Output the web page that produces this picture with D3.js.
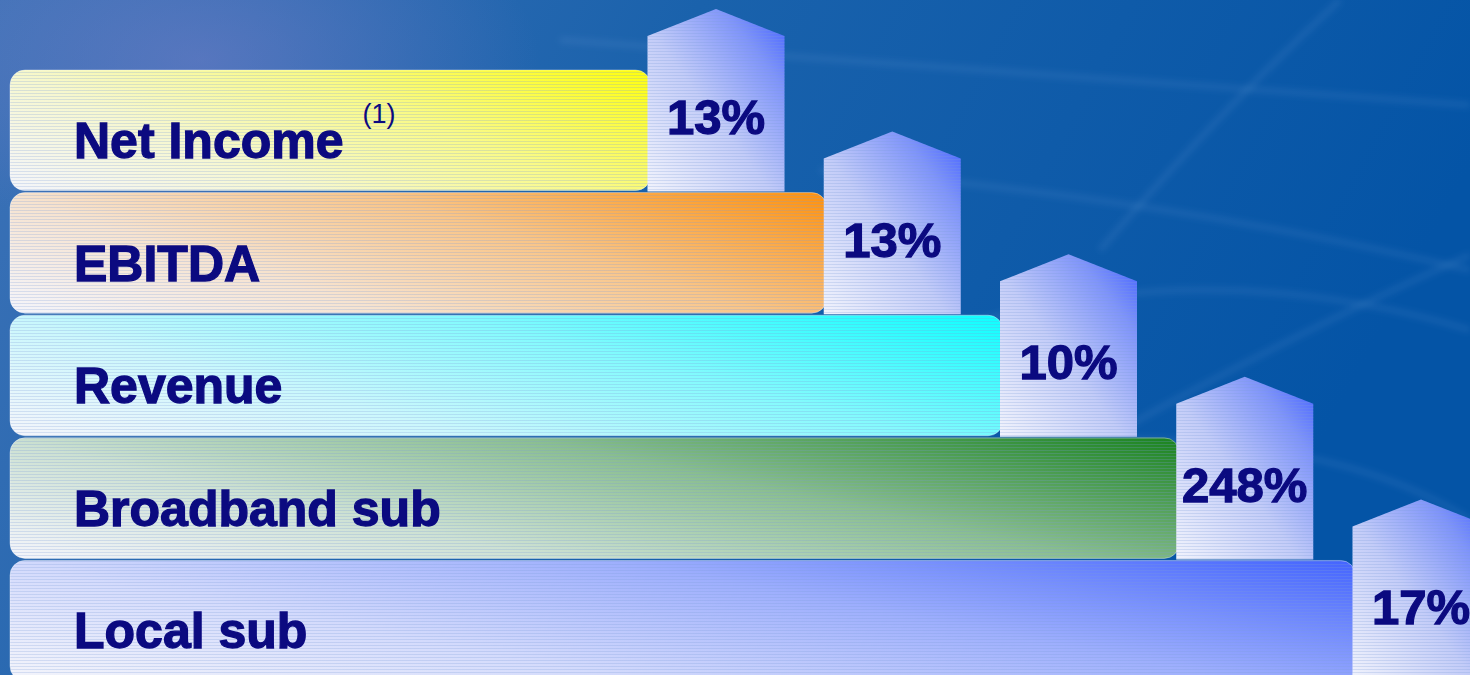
<!DOCTYPE html>
<html>
<head>
<meta charset="utf-8">
<script src="https://cdn.jsdelivr.net/npm/d3@7/dist/d3.min.js"></script>
<style>
  html, body { margin: 0; padding: 0; background: #0656a8; overflow: hidden; }
  svg { display: block; }
</style>
</head>
<body>
<svg id="chart" width="1470" height="675"></svg>
<script>
// Growth by metric, stepped from smallest bar (top) to longest (bottom)
const categories = ["Net Income", "EBITDA", "Revenue", "Broadband sub", "Local sub"];
const growthPct = [13, 13, 10, 248, 17];
const footnotes = ["(1)", "", "", "", ""];
const barColors = ["#ffff00", "#ff8c00", "#00ffff", "#0e7d12", "#3a5cff"];

const W = 1470, H = 675;
const svg = d3.select("#chart");
const defs = svg.append("defs");

// ---- background -------------------------------------------------------
const bg = defs.append("linearGradient").attr("id", "bg")
  .attr("x1", 0).attr("y1", 0).attr("x2", 1).attr("y2", 0.25);
bg.append("stop").attr("offset", 0).attr("stop-color", "#3d72b7");
bg.append("stop").attr("offset", 0.45).attr("stop-color", "#1a62ac");
bg.append("stop").attr("offset", 1).attr("stop-color", "#0454a6");

const glow = defs.append("radialGradient").attr("id", "glow")
  .attr("cx", 0.5).attr("cy", 0.5).attr("r", 0.5);
glow.append("stop").attr("offset", 0).attr("stop-color", "#8482cc").attr("stop-opacity", 0.45);
glow.append("stop").attr("offset", 1).attr("stop-color", "#8482cc").attr("stop-opacity", 0);

defs.append("filter").attr("id", "soft")
  .append("feGaussianBlur").attr("stdDeviation", 3);

svg.append("rect").attr("width", W).attr("height", H).attr("fill", "url(#bg)");
svg.append("ellipse").attr("cx", 200).attr("cy", 60).attr("rx", 340).attr("ry", 180)
  .attr("fill", "url(#glow)");

// faint light swooshes across the backdrop
const swooshes = [
  "M 560 40 Q 1000 70 1470 105",
  "M 1100 250 Q 1220 110 1340 0",
  "M 820 170 Q 1150 195 1470 270",
  "M 1120 430 Q 1300 330 1470 255",
  "M 1050 440 Q 1330 430 1470 520",
  "M 950 330 Q 1200 250 1470 330"
];
svg.append("g").attr("filter", "url(#soft)")
  .selectAll("path").data(swooshes).join("path")
  .attr("d", d => d)
  .attr("fill", "none")
  .attr("stroke", "#8fb8e8")
  .attr("stroke-opacity", 0.12)
  .attr("stroke-width", 6);

// ---- scales -----------------------------------------------------------
const y = d3.scaleBand()
  .domain(categories)
  .range([70, 70 + 5 * 122.2])
  .paddingInner(0.017)
  .paddingOuter(0);

// each step of the staircase pushes the growth marker further right
const xMarker = d3.scalePoint()
  .domain(categories)
  .range([716, 1421]);

const markerW = 137;
const barLeft = 10;
const apexRise = 61, shoulderDrop = 27;

// ---- gradients --------------------------------------------------------
// mostly left-to-right, tilted so the top-right corner is the richest
const pale = "#f4f5fb";
barColors.forEach((c, i) => {
  const g = defs.append("linearGradient").attr("id", "bar" + i)
    .attr("x1", 0).attr("y1", 1).attr("x2", 1.25).attr("y2", 0.4);
  const mix = d3.interpolateRgb(pale, c);
  [[0, 0.0], [0.3, 0.17], [0.6, 0.46], [0.85, 0.8], [1, 1]].forEach(([o, t]) =>
    g.append("stop").attr("offset", o).attr("stop-color", mix(t)));
});
const ag = defs.append("linearGradient").attr("id", "arrowGrad")
  .attr("x1", 0).attr("y1", 1).attr("x2", 1).attr("y2", 0);
ag.append("stop").attr("offset", 0).attr("stop-color", "#f1f3fc");
ag.append("stop").attr("offset", 0.45).attr("stop-color", "#c3ccf8");
ag.append("stop").attr("offset", 0.78).attr("stop-color", "#7f94fa");
ag.append("stop").attr("offset", 1).attr("stop-color", "#4260ff");

// fine line texture laid over the shapes
const tex = defs.append("pattern").attr("id", "tex")
  .attr("width", 6).attr("height", 3).attr("patternUnits", "userSpaceOnUse");
tex.append("rect").attr("width", 6).attr("height", 1).attr("fill", "#7d9ad8").attr("opacity", 0.25);

// ---- rows -------------------------------------------------------------
const navy = "#0b0a80";
const font = "'Liberation Sans', Arial, Helvetica, sans-serif";

const rows = categories.map((c, i) => ({
  cat: c, pct: growthPct[i], note: footnotes[i], i
}));

const row = svg.append("g").selectAll("g").data(rows).join("g");

row.each(function (d) {
  const g = d3.select(this);
  const top = y(d.cat), h = y.bandwidth();
  const cx = xMarker(d.cat);
  const barRight = cx - markerW / 2 + 3;

  // bar body
  g.append("rect")
    .attr("x", barLeft).attr("y", top)
    .attr("width", barRight - barLeft).attr("height", h)
    .attr("rx", 15).attr("ry", 15)
    .attr("fill", `url(#bar${d.i})`);
  g.append("rect")
    .attr("x", barLeft).attr("y", top)
    .attr("width", barRight - barLeft).attr("height", h)
    .attr("rx", 15).attr("ry", 15)
    .attr("fill", "url(#tex)")
    .attr("stroke", "#ffffff").attr("stroke-opacity", 0.35).attr("stroke-width", 1);

  // up-pointing growth marker
  const l = cx - markerW / 2, r = cx + markerW / 2;
  const apex = top - apexRise, shoulder = apex + shoulderDrop, bottom = top + h + 1;
  const pts = [[l, bottom], [l, shoulder], [cx, apex], [r, shoulder], [r, bottom]];
  const line = d3.line();
  g.append("path").attr("d", line(pts) + "Z").attr("fill", "url(#arrowGrad)");
  g.append("path").attr("d", line(pts) + "Z").attr("fill", "url(#tex)");

  // growth value
  g.append("text")
    .attr("x", cx).attr("y", top + 64)
    .attr("text-anchor", "middle")
    .attr("font-family", font).attr("font-weight", "bold")
    .attr("font-size", 49).attr("fill", navy)
    .attr("stroke", navy).attr("stroke-width", 1.3)
    .text(d.pct + "%");

  // metric name
  const name = g.append("text")
    .attr("x", 74).attr("y", top + 88)
    .attr("font-family", font).attr("font-weight", "bold")
    .attr("font-size", 50).attr("fill", navy)
    .attr("stroke", navy).attr("stroke-width", 1.3)
    .text(d.cat);

  if (d.note) {
    const len = name.node().getComputedTextLength();
    g.append("text")
      .attr("x", 74 + len + 19).attr("y", top + 53)
      .attr("font-family", font)
      .attr("font-size", 27).attr("fill", navy)
      .text(d.note);
  }
});
</script>
</body>
</html>
